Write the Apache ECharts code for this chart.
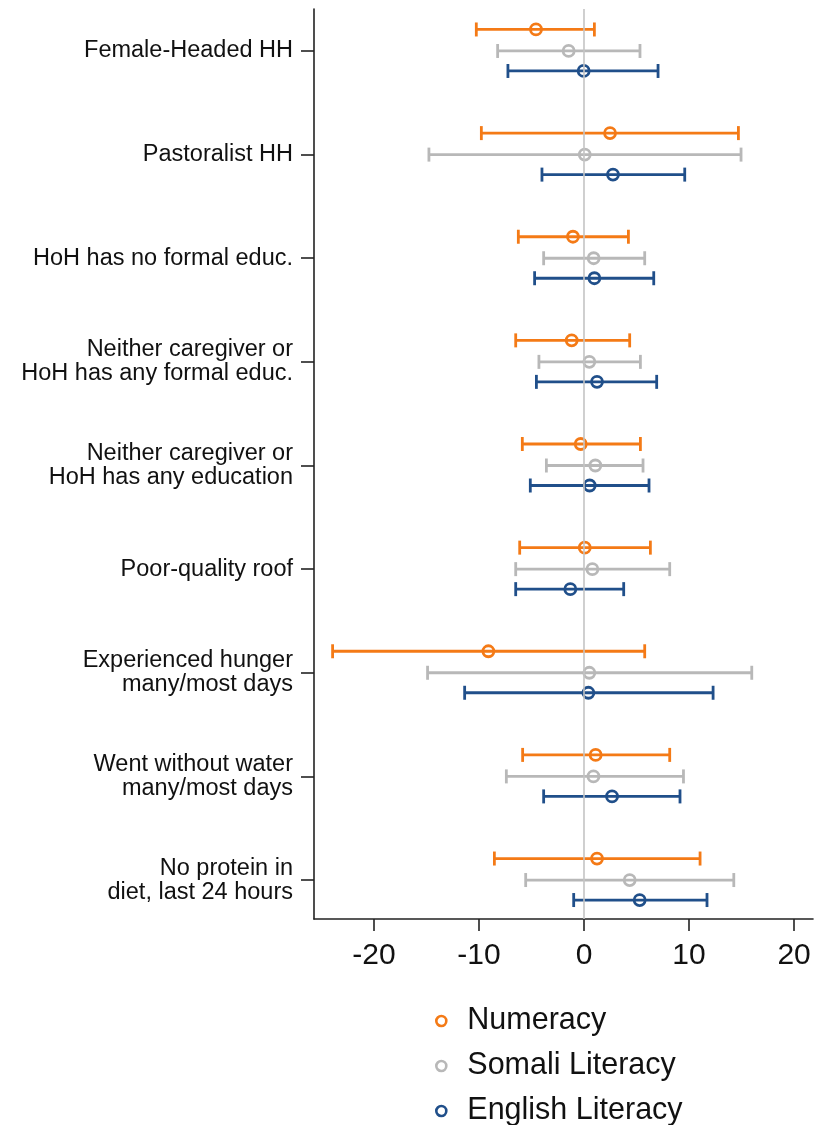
<!DOCTYPE html>
<html>
<head>
<meta charset="utf-8">
<script src="https://cdn.jsdelivr.net/npm/echarts@6/dist/echarts.min.js"></script>
<style>
  html, body { margin: 0; padding: 0; background: #fff; }
  #chart { width: 817px; height: 1125px; }
</style>
</head>
<body>
<div id="chart"></div>
<script>
// Household characteristics (rows, top to bottom)
const categories = [
  'Female-Headed HH',
  'Pastoralist HH',
  'HoH has no formal educ.',
  'Neither caregiver or\nHoH has any formal educ.',
  'Neither caregiver or\nHoH has any education',
  'Poor-quality roof',
  'Experienced hunger\nmany/most days',
  'Went without water\nmany/most days',
  'No protein in\ndiet, last 24 hours'
];

// Point estimates and confidence bounds per outcome
const numeracyEst  = [-4.57, 2.48, -1.05, -1.17, -0.31, 0.07, -9.10, 1.11, 1.24];
const numeracyLow  = [-10.25, -9.77, -6.25, -6.50, -5.87, -6.12, -23.93, -5.84, -8.53];
const numeracyHigh = [0.99, 14.70, 4.23, 4.35, 5.37, 6.32, 5.78, 8.16, 11.05];

const somaliEst  = [-1.46, 0.07, 0.92, 0.51, 1.08, 0.80, 0.51, 0.90, 4.35];
const somaliLow  = [-8.22, -14.76, -3.84, -4.29, -3.58, -6.50, -14.89, -7.39, -5.55];
const somaliHigh = [5.33, 14.95, 5.78, 5.37, 5.62, 8.16, 15.97, 9.47, 14.26];

const englishEst  = [-0.03, 2.76, 0.99, 1.24, 0.54, -1.30, 0.42, 2.67, 5.30];
const englishLow  = [-7.24, -4.00, -4.70, -4.53, -5.11, -6.50, -11.36, -3.84, -0.98];
const englishHigh = [7.05, 9.59, 6.64, 6.92, 6.19, 3.78, 12.29, 9.14, 11.71];

// Axis tick values
const xTicks = [-20, -10, 0, 10, 20];
const yTicks = categories.map((_, i) => i);

const seriesNames = ['Numeracy', 'Somali Literacy', 'English Literacy'];

const FONT = 'Liberation Sans, Arial, sans-serif';
const colors = { numeracy: '#f47a16', somali: '#b8b8b8', english: '#204f8a' };

function buildRows(est, low, high) {
  return categories.map((_, i) => [i, low[i], est[i], high[i]]);
}

// Draws one horizontal CI bar with end caps and a hollow circle at the estimate
function makeRenderer(color, offsetPx) {
  return function (params, api) {
    const yi = api.value(0);
    const lo = api.coord([api.value(1), yi]);
    const est = api.coord([api.value(2), yi]);
    const hi = api.coord([api.value(3), yi]);
    const y = lo[1] + offsetPx;
    const capH = 7;
    const stroke = { stroke: color, lineWidth: 2.8, fill: null };
    return {
      type: 'group',
      children: [
        { type: 'line', shape: { x1: lo[0], y1: y, x2: hi[0], y2: y }, style: stroke },
        { type: 'line', shape: { x1: lo[0], y1: y - capH, x2: lo[0], y2: y + capH }, style: stroke },
        { type: 'line', shape: { x1: hi[0], y1: y - capH, x2: hi[0], y2: y + capH }, style: stroke },
        { type: 'circle', shape: { cx: est[0], cy: y, r: 5.5 }, style: { stroke: color, lineWidth: 2.8, fill: 'rgba(0,0,0,0)' } }
      ]
    };
  };
}

const chart = echarts.init(document.getElementById('chart'), null, { renderer: 'canvas' });

chart.setOption({
  animation: false,
  backgroundColor: '#fff',
  grid: { left: 314, right: 4, top: 9, bottom: 206, containLabel: false },
  xAxis: {
    type: 'value',
    min: -25.7,
    max: 21.8,
    splitLine: { show: false },
    axisLine: { show: true, onZero: false, lineStyle: { color: '#222', width: 1.6 } },
    axisTick: { show: true, length: 12, customValues: xTicks, lineStyle: { color: '#222', width: 1.6 } },
    axisLabel: { customValues: xTicks, margin: 22, fontSize: 30, color: '#111', fontFamily: FONT }
  },
  yAxis: {
    type: 'value',
    inverse: true,
    min: -0.405,
    max: 8.376,
    splitLine: { show: false },
    axisLine: { show: true, onZero: false, lineStyle: { color: '#222', width: 1.6 } },
    axisTick: { show: true, length: 13, customValues: yTicks, lineStyle: { color: '#222', width: 1.6 } },
    axisLabel: {
      customValues: yTicks,
      margin: 21,
      fontSize: 23.5,
      lineHeight: 24,
      color: '#111',
      fontFamily: FONT,
      align: 'right',
      formatter: v => categories[Math.round(v)] || ''
    }
  },
  legend: {
    orient: 'vertical',
    left: 435,
    top: 1005.5,
    height: 140,
    padding: 0,
    itemWidth: 10,
    itemHeight: 10,
    itemGap: 14,
    textStyle: { fontSize: 30.5, lineHeight: 29.5, color: '#111', fontFamily: FONT, padding: [0, 0, 0, 16] },
    data: [
      { name: seriesNames[0], icon: 'circle', itemStyle: { color: 'rgba(0,0,0,0)', borderColor: colors.numeracy, borderWidth: 2.6 } },
      { name: seriesNames[1], icon: 'circle', itemStyle: { color: 'rgba(0,0,0,0)', borderColor: colors.somali, borderWidth: 2.6 } },
      { name: seriesNames[2], icon: 'circle', itemStyle: { color: 'rgba(0,0,0,0)', borderColor: colors.english, borderWidth: 2.6 } }
    ]
  },
  series: [
    {
      // zero reference line
      type: 'custom',
      name: 'zero',
      z: 1,
      data: [],
      renderItem: () => null,
      markLine: {
        silent: true,
        symbol: 'none',
        label: { show: false },
        lineStyle: { color: '#c4c4c4', width: 1.6, type: 'solid' },
        data: [{ xAxis: 0 }]
      }
    },
    {
      type: 'custom', name: seriesNames[0], z: 3,
      itemStyle: { color: colors.numeracy },
      encode: { x: [1, 2, 3], y: 0 },
      data: buildRows(numeracyEst, numeracyLow, numeracyHigh),
      renderItem: makeRenderer(colors.numeracy, -21.5)
    },
    {
      type: 'custom', name: seriesNames[1], z: 3,
      itemStyle: { color: colors.somali },
      encode: { x: [1, 2, 3], y: 0 },
      data: buildRows(somaliEst, somaliLow, somaliHigh),
      renderItem: makeRenderer(colors.somali, 0)
    },
    {
      type: 'custom', name: seriesNames[2], z: 3,
      itemStyle: { color: colors.english },
      encode: { x: [1, 2, 3], y: 0 },
      data: buildRows(englishEst, englishLow, englishHigh),
      renderItem: makeRenderer(colors.english, 20)
    }
  ]
});
</script>
</body>
</html>
